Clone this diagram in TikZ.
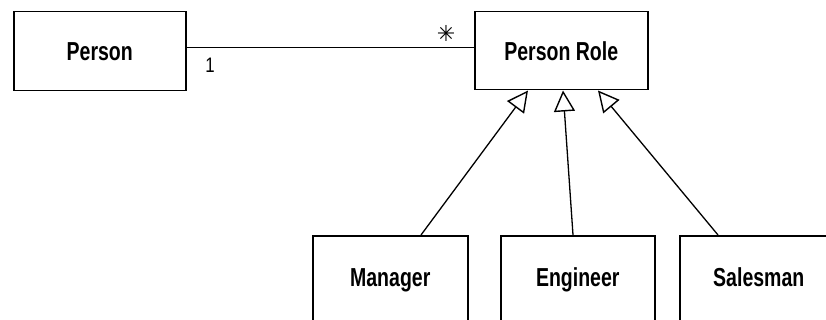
\documentclass[tikz,border=0pt]{standalone}
\usepackage{fontspec}
\setmainfont{Liberation Sans}
\newfontfamily\boxfont[FakeStretch=0.75]{Liberation Sans}
\newfontfamily\multfont[FakeStretch=0.8]{Liberation Sans}
\newfontfamily\symfont{DejaVu Sans}
\usetikzlibrary{arrows.meta}
\begin{document}
\begin{tikzpicture}[x=1pt,y=-1pt,
  cls/.style={draw, line width=1.5pt, font=\boxfont\bfseries\fontsize{26}{30}\selectfont,
    inner sep=0pt, anchor=north west, text height=19pt, text depth=0pt},
  subcls/.style={cls, inner ysep=32pt, text depth=60pt},
  assoc/.style={line width=1.4pt},
  mult/.style={inner sep=0pt, font=\multfont\fontsize{21}{24}\selectfont},
  gen/.style={line width=1.3pt, -{Triangle[open, length=21pt, width=21pt, line width=1.4pt]}}]
\useasboundingbox (0,0) rectangle (826,320);
\clip (0,0) rectangle (826,320);
\node[cls, minimum width=172pt, minimum height=79pt] (person) at (13,11) {Person};
\node[cls, minimum width=173pt, minimum height=78pt] (role) at (474,11) {Person Role};
\node[subcls, minimum width=155pt] (man) at (312,235) {Manager};
\node[subcls, minimum width=154pt] (eng) at (500,235) {Engineer};
\node[subcls, minimum width=158pt] (sal) at (679,235) {Salesman};
\draw[assoc] ([yshift=3.5pt]person.east) -- ([yshift=3pt]role.west);
\node[mult] (one) at (210,65) {1};
\node[inner sep=0pt, font=\symfont\bfseries\fontsize{22}{24}\selectfont] (many) at (446,33) {✳};
\draw[gen] ([xshift=109pt]man.north west) -- ([xshift=54pt]role.south west);
\draw[gen] ([xshift=73pt]eng.north west) -- ([xshift=89pt]role.south west);
\draw[gen] ([xshift=39pt]sal.north west) -- ([xshift=124pt]role.south west);
\end{tikzpicture}
\end{document}
